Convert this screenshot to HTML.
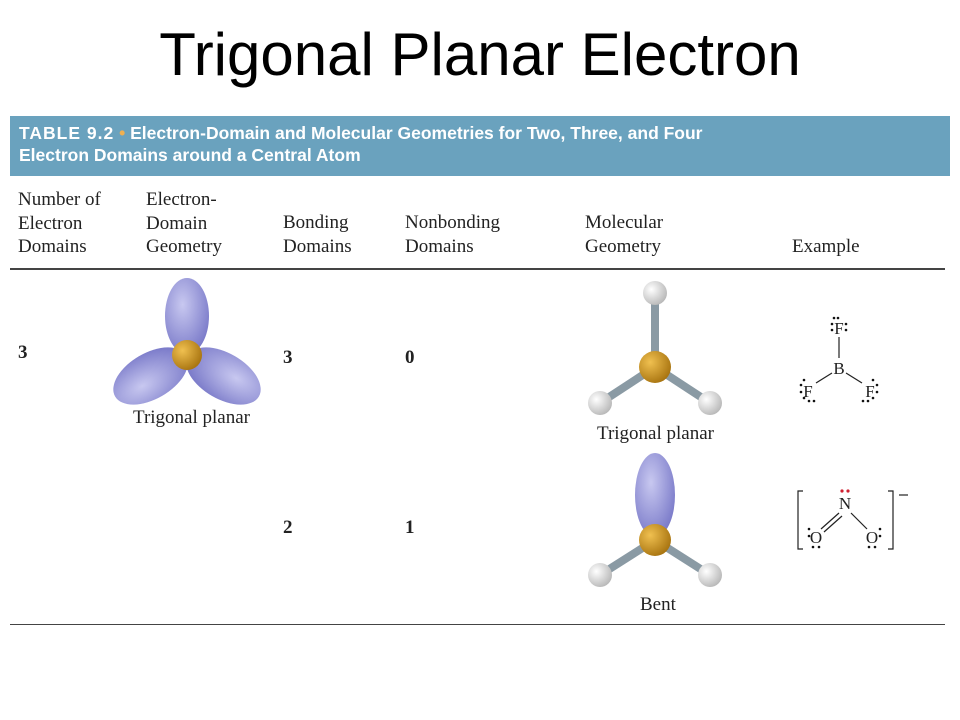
<!DOCTYPE html>
<html><head><meta charset="utf-8"><style>
body{margin:0;width:960px;height:720px;background:#fff;position:relative;overflow:hidden;font-family:"Liberation Serif",serif;}
.t{position:absolute;white-space:nowrap}
.h{font-size:19px;line-height:23.5px;color:#222}
</style></head><body>
<div class="t" style="left:0;width:960px;text-align:center;top:20px;font:60px 'Liberation Sans',sans-serif;color:#000">Trigonal Planar Electron</div>
<div style="position:absolute;left:10px;top:116px;width:940px;height:60px;background:#6aa2be"></div>
<div class="t" style="left:19px;top:122px;font:bold 17.5px/22px 'Liberation Sans',sans-serif;color:#fff"><span style="letter-spacing:1px">TABLE 9.2</span> <span style="color:#f0b050">•</span> Electron-Domain and Molecular Geometries for Two, Three, and Four<br>Electron Domains around a Central Atom</div>
<div class="t h" style="left:18px;top:188px">Number of<br>Electron<br>Domains</div>
<div class="t h" style="left:146px;top:188px">Electron-<br>Domain<br>Geometry</div>
<div class="t h" style="left:283px;top:211px">Bonding<br>Domains</div>
<div class="t h" style="left:405px;top:211px">Nonbonding<br>Domains</div>
<div class="t h" style="left:585px;top:211px">Molecular<br>Geometry</div>
<div class="t h" style="left:792px;top:235px">Example</div>
<div style="position:absolute;left:10px;top:268px;width:935px;height:2px;background:#444"></div>
<div style="position:absolute;left:10px;top:624px;width:935px;height:1px;background:#444"></div>
<div class="t h" style="left:18px;top:341px;font-weight:bold">3</div>
<div class="t h" style="left:283px;top:346px;font-weight:bold">3</div>
<div class="t h" style="left:405px;top:346px;font-weight:bold">0</div>
<div class="t h" style="left:283px;top:516px;font-weight:bold">2</div>
<div class="t h" style="left:405px;top:516px;font-weight:bold">1</div>
<div class="t h" style="left:133px;top:406px">Trigonal planar</div>
<div class="t h" style="left:597px;top:422px">Trigonal planar</div>
<div class="t h" style="left:640px;top:593px">Bent</div>
<svg width="960" height="720" style="position:absolute;left:0;top:0">
<defs>
<radialGradient id="lb" cx="0.4" cy="0.35" r="0.7"><stop offset="0" stop-color="#c8c8f0"/><stop offset="1" stop-color="#7878c8"/></radialGradient>
<radialGradient id="au" cx="0.35" cy="0.35" r="0.7"><stop offset="0" stop-color="#f0c050"/><stop offset="1" stop-color="#a87410"/></radialGradient>
<radialGradient id="wh" cx="0.35" cy="0.35" r="0.7"><stop offset="0" stop-color="#ffffff"/><stop offset="1" stop-color="#b8b8b8"/></radialGradient>
</defs>
<g fill="url(#lb)">
<ellipse cx="187" cy="316" rx="22" ry="38"/>
<ellipse cx="187" cy="313" rx="23" ry="41" transform="rotate(120 187 355)"/>
<ellipse cx="187" cy="313" rx="23" ry="41" transform="rotate(240 187 355)"/>
</g>
<circle cx="187" cy="355" r="15" fill="url(#au)"/>
<g stroke="#8a9aa4" stroke-width="8">
<line x1="655" y1="293" x2="655" y2="367"/><line x1="600" y1="403" x2="655" y2="367"/><line x1="710" y1="403" x2="655" y2="367"/>
<line x1="600" y1="575" x2="655" y2="540"/><line x1="710" y1="575" x2="655" y2="540"/>
</g>
<ellipse cx="655" cy="495" rx="20" ry="42" fill="url(#lb)"/>
<circle cx="655" cy="293" r="12" fill="url(#wh)"/>
<circle cx="600" cy="403" r="12" fill="url(#wh)"/>
<circle cx="710" cy="403" r="12" fill="url(#wh)"/>
<circle cx="600" cy="575" r="12" fill="url(#wh)"/>
<circle cx="710" cy="575" r="12" fill="url(#wh)"/>
<circle cx="655" cy="367" r="16" fill="url(#au)"/>
<circle cx="655" cy="540" r="16" fill="url(#au)"/>
<g font-family="Liberation Serif,serif" font-size="17" fill="#222" text-anchor="middle">
<text x="839" y="334">F</text><text x="839" y="374">B</text><text x="808" y="397">F</text><text x="870" y="397">F</text>
<text x="845" y="509">N</text><text x="816" y="543">O</text><text x="872" y="543">O</text>
</g>
<g stroke="#222" stroke-width="1.2" fill="none">
<line x1="839" y1="337" x2="839" y2="358"/><line x1="832" y1="373" x2="816" y2="383"/><line x1="846" y1="373" x2="862" y2="383"/>
<line x1="839" y1="513" x2="821" y2="529"/><line x1="842" y1="516" x2="824" y2="532"/><line x1="851" y1="513" x2="867" y2="529"/>
<path d="M803 491h-5v58h5"/><path d="M888 491h5v58h-5"/><line x1="899" y1="495" x2="908" y2="495"/>
</g>
<g fill="#111">
<circle cx="834" cy="318" r="1.3"/><circle cx="838" cy="318" r="1.3"/><circle cx="832" cy="324" r="1.3"/><circle cx="832" cy="330" r="1.3"/><circle cx="846" cy="324" r="1.3"/><circle cx="846" cy="330" r="1.3"/>
<circle cx="801" cy="385" r="1.3"/><circle cx="801" cy="392" r="1.3"/><circle cx="804" cy="380" r="1.3"/><circle cx="804" cy="398" r="1.3"/><circle cx="809" cy="401" r="1.3"/><circle cx="814" cy="401" r="1.3"/>
<circle cx="877" cy="385" r="1.3"/><circle cx="877" cy="392" r="1.3"/><circle cx="873" cy="380" r="1.3"/><circle cx="873" cy="398" r="1.3"/><circle cx="868" cy="401" r="1.3"/><circle cx="863" cy="401" r="1.3"/>
<circle cx="809" cy="529" r="1.3"/><circle cx="809" cy="536" r="1.3"/><circle cx="813" cy="547" r="1.3"/><circle cx="819" cy="547" r="1.3"/>
<circle cx="880" cy="529" r="1.3"/><circle cx="880" cy="536" r="1.3"/><circle cx="869" cy="547" r="1.3"/><circle cx="875" cy="547" r="1.3"/>
</g>
<circle cx="842" cy="491" r="1.6" fill="#d02030"/><circle cx="848" cy="491" r="1.6" fill="#d02030"/>
</svg>
</body></html>
